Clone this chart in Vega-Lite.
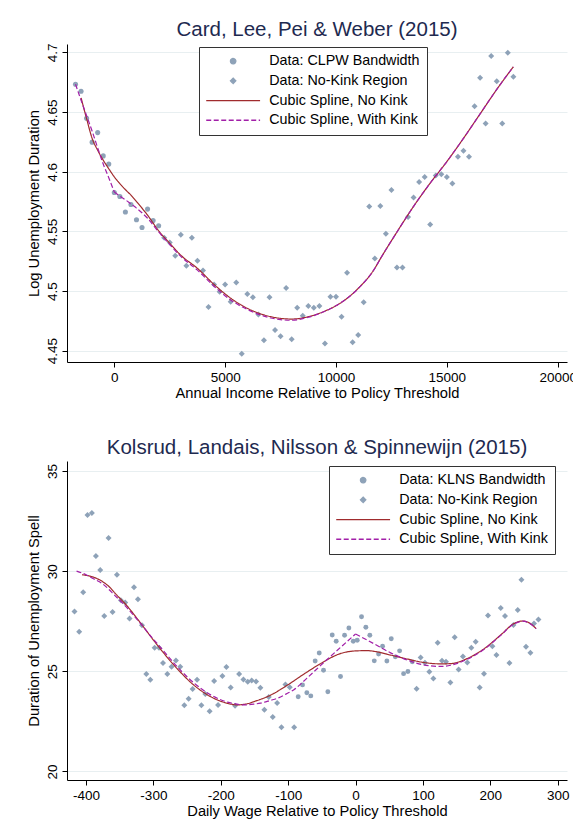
{
  "$schema": "https://vega.github.io/schema/vega-lite/v6.json",
  "background": "white",
  "padding": {"left": 26, "top": 19, "right": 0, "bottom": 10},
  "spacing": 36,
  "config": {
    "font": "Liberation Sans",
    "view": {"stroke": null},
    "axis": {
      "domainColor": "#000000",
      "tickColor": "#000000",
      "labelColor": "#000000",
      "titleColor": "#000000",
      "labelFontSize": 13.5,
      "titleFontSize": 14.7,
      "titleFontWeight": "normal",
      "tickSize": 5,
      "labelPadding": 3,
      "gridColor": "#e8eff1",
      "gridWidth": 1
    },
    "axisX": {"titlePadding": 2},
    "axisY": {"titlePadding": 3.5},
    "title": {"fontSize": 20.5, "fontWeight": "normal", "color": "#1e2a50", "offset": 3},
    "legend": {
      "title": null,
      "orient": "none",
      "padding": 7,
      "strokeColor": "#333333",
      "fillColor": "white",
      "symbolSize": 29,
      "symbolStrokeWidth": 1.3,
      "symbolOffset": 20,
      "labelOffset": 29,
      "labelFontSize": 14.3,
      "labelColor": "#000000",
      "labelExpr": "datum.label + '  '",
      "rowPadding": 4.7
    }
  },
  "resolve": {"scale": {"color": "independent", "shape": "independent", "strokeDash": "independent"}},
  "datasets": {
    "top_pts": [
      {"x": -1750, "y": 4.6734, "s": "Data: CLPW Bandwidth"},
      {"x": -1500, "y": 4.6675, "s": "Data: CLPW Bandwidth"},
      {"x": -1250, "y": 4.6449, "s": "Data: CLPW Bandwidth"},
      {"x": -1000, "y": 4.6248, "s": "Data: CLPW Bandwidth"},
      {"x": -750, "y": 4.6328, "s": "Data: CLPW Bandwidth"},
      {"x": -500, "y": 4.6133, "s": "Data: CLPW Bandwidth"},
      {"x": -250, "y": 4.6064, "s": "Data: CLPW Bandwidth"},
      {"x": 0, "y": 4.5826, "s": "Data: CLPW Bandwidth"},
      {"x": 250, "y": 4.5792, "s": "Data: CLPW Bandwidth"},
      {"x": 500, "y": 4.5662, "s": "Data: CLPW Bandwidth"},
      {"x": 750, "y": 4.5725, "s": "Data: CLPW Bandwidth"},
      {"x": 1000, "y": 4.5597, "s": "Data: CLPW Bandwidth"},
      {"x": 1250, "y": 4.5533, "s": "Data: CLPW Bandwidth"},
      {"x": 1500, "y": 4.5687, "s": "Data: CLPW Bandwidth"},
      {"x": 1750, "y": 4.5591, "s": "Data: CLPW Bandwidth"},
      {"x": 2000, "y": 4.5547, "s": "Data: CLPW Bandwidth"},
      {"x": 2250, "y": 4.5446, "s": "Data: No-Kink Region"},
      {"x": 2500, "y": 4.5407, "s": "Data: No-Kink Region"},
      {"x": 2750, "y": 4.5296, "s": "Data: No-Kink Region"},
      {"x": 3000, "y": 4.5472, "s": "Data: No-Kink Region"},
      {"x": 3250, "y": 4.5212, "s": "Data: No-Kink Region"},
      {"x": 3500, "y": 4.5446, "s": "Data: No-Kink Region"},
      {"x": 3750, "y": 4.5254, "s": "Data: No-Kink Region"},
      {"x": 4000, "y": 4.5173, "s": "Data: No-Kink Region"},
      {"x": 4250, "y": 4.4866, "s": "Data: No-Kink Region"},
      {"x": 4500, "y": 4.5055, "s": "Data: No-Kink Region"},
      {"x": 4750, "y": 4.4994, "s": "Data: No-Kink Region"},
      {"x": 5000, "y": 4.5055, "s": "Data: No-Kink Region"},
      {"x": 5250, "y": 4.491, "s": "Data: No-Kink Region"},
      {"x": 5500, "y": 4.5072, "s": "Data: No-Kink Region"},
      {"x": 5750, "y": 4.4475, "s": "Data: No-Kink Region"},
      {"x": 6000, "y": 4.4975, "s": "Data: No-Kink Region"},
      {"x": 6250, "y": 4.4947, "s": "Data: No-Kink Region"},
      {"x": 6500, "y": 4.4804, "s": "Data: No-Kink Region"},
      {"x": 6750, "y": 4.4587, "s": "Data: No-Kink Region"},
      {"x": 7000, "y": 4.4947, "s": "Data: No-Kink Region"},
      {"x": 7250, "y": 4.4673, "s": "Data: No-Kink Region"},
      {"x": 7500, "y": 4.462, "s": "Data: No-Kink Region"},
      {"x": 7750, "y": 4.5025, "s": "Data: No-Kink Region"},
      {"x": 8000, "y": 4.4595, "s": "Data: No-Kink Region"},
      {"x": 8250, "y": 4.486, "s": "Data: No-Kink Region"},
      {"x": 8500, "y": 4.4793, "s": "Data: No-Kink Region"},
      {"x": 8750, "y": 4.4874, "s": "Data: No-Kink Region"},
      {"x": 9000, "y": 4.486, "s": "Data: No-Kink Region"},
      {"x": 9250, "y": 4.4874, "s": "Data: No-Kink Region"},
      {"x": 9500, "y": 4.4561, "s": "Data: No-Kink Region"},
      {"x": 9750, "y": 4.4952, "s": "Data: No-Kink Region"},
      {"x": 10000, "y": 4.4952, "s": "Data: No-Kink Region"},
      {"x": 10250, "y": 4.4785, "s": "Data: No-Kink Region"},
      {"x": 10500, "y": 4.5153, "s": "Data: No-Kink Region"},
      {"x": 10750, "y": 4.457, "s": "Data: No-Kink Region"},
      {"x": 11000, "y": 4.4631, "s": "Data: No-Kink Region"},
      {"x": 11250, "y": 4.4905, "s": "Data: No-Kink Region"},
      {"x": 11500, "y": 4.5709, "s": "Data: No-Kink Region"},
      {"x": 11750, "y": 4.5273, "s": "Data: No-Kink Region"},
      {"x": 12000, "y": 4.5712, "s": "Data: No-Kink Region"},
      {"x": 12250, "y": 4.548, "s": "Data: No-Kink Region"},
      {"x": 12500, "y": 4.5848, "s": "Data: No-Kink Region"},
      {"x": 12750, "y": 4.5198, "s": "Data: No-Kink Region"},
      {"x": 13000, "y": 4.5198, "s": "Data: No-Kink Region"},
      {"x": 13250, "y": 4.562, "s": "Data: No-Kink Region"},
      {"x": 13500, "y": 4.5784, "s": "Data: No-Kink Region"},
      {"x": 13750, "y": 4.5915, "s": "Data: No-Kink Region"},
      {"x": 14000, "y": 4.5957, "s": "Data: No-Kink Region"},
      {"x": 14250, "y": 4.5558, "s": "Data: No-Kink Region"},
      {"x": 14500, "y": 4.5968, "s": "Data: No-Kink Region"},
      {"x": 14750, "y": 4.598, "s": "Data: No-Kink Region"},
      {"x": 15000, "y": 4.5957, "s": "Data: No-Kink Region"},
      {"x": 15250, "y": 4.5901, "s": "Data: No-Kink Region"},
      {"x": 15500, "y": 4.6125, "s": "Data: No-Kink Region"},
      {"x": 15750, "y": 4.6175, "s": "Data: No-Kink Region"},
      {"x": 16000, "y": 4.6125, "s": "Data: No-Kink Region"},
      {"x": 16250, "y": 4.6549, "s": "Data: No-Kink Region"},
      {"x": 16500, "y": 4.6789, "s": "Data: No-Kink Region"},
      {"x": 16750, "y": 4.6404, "s": "Data: No-Kink Region"},
      {"x": 17000, "y": 4.6971, "s": "Data: No-Kink Region"},
      {"x": 17250, "y": 4.6759, "s": "Data: No-Kink Region"},
      {"x": 17500, "y": 4.6404, "s": "Data: No-Kink Region"},
      {"x": 17750, "y": 4.6998, "s": "Data: No-Kink Region"},
      {"x": 18000, "y": 4.6797, "s": "Data: No-Kink Region"}
    ],
    "top_lines": [
      {"x": -1500, "y": 4.662, "s": "Cubic Spline, No Kink", "part": "a"},
      {"x": -1250, "y": 4.6445, "s": "Cubic Spline, No Kink", "part": "a"},
      {"x": -1000, "y": 4.628, "s": "Cubic Spline, No Kink", "part": "a"},
      {"x": -750, "y": 4.618, "s": "Cubic Spline, No Kink", "part": "a"},
      {"x": -500, "y": 4.6097, "s": "Cubic Spline, No Kink", "part": "a"},
      {"x": -250, "y": 4.6025, "s": "Cubic Spline, No Kink", "part": "a"},
      {"x": 0, "y": 4.5957, "s": "Cubic Spline, No Kink", "part": "a"},
      {"x": 250, "y": 4.59, "s": "Cubic Spline, No Kink", "part": "a"},
      {"x": 500, "y": 4.585, "s": "Cubic Spline, No Kink", "part": "a"},
      {"x": 750, "y": 4.5804, "s": "Cubic Spline, No Kink", "part": "a"},
      {"x": 1000, "y": 4.575, "s": "Cubic Spline, No Kink", "part": "a"},
      {"x": 1500, "y": 4.5636, "s": "Cubic Spline, No Kink", "part": "a"},
      {"x": 2000, "y": 4.5505, "s": "Cubic Spline, No Kink", "part": "a"},
      {"x": 2500, "y": 4.54, "s": "Cubic Spline, No Kink", "part": "a"},
      {"x": 3000, "y": 4.53, "s": "Cubic Spline, No Kink", "part": "a"},
      {"x": 3750, "y": 4.519, "s": "Cubic Spline, No Kink", "part": "a"},
      {"x": 4500, "y": 4.5055, "s": "Cubic Spline, No Kink", "part": "a"},
      {"x": 5250, "y": 4.494, "s": "Cubic Spline, No Kink", "part": "a"},
      {"x": 6000, "y": 4.4855, "s": "Cubic Spline, No Kink", "part": "a"},
      {"x": 6750, "y": 4.48, "s": "Cubic Spline, No Kink", "part": "a"},
      {"x": 7500, "y": 4.4771, "s": "Cubic Spline, No Kink", "part": "a"},
      {"x": 8000, "y": 4.4765, "s": "Cubic Spline, No Kink", "part": "a"},
      {"x": 8750, "y": 4.4785, "s": "Cubic Spline, No Kink", "part": "a"},
      {"x": 9500, "y": 4.4832, "s": "Cubic Spline, No Kink", "part": "a"},
      {"x": 10250, "y": 4.4905, "s": "Cubic Spline, No Kink", "part": "a"},
      {"x": 11000, "y": 4.5022, "s": "Cubic Spline, No Kink", "part": "a"},
      {"x": 11750, "y": 4.519, "s": "Cubic Spline, No Kink", "part": "a"},
      {"x": 12000, "y": 4.527, "s": "Cubic Spline, No Kink", "part": "a"},
      {"x": 12750, "y": 4.5495, "s": "Cubic Spline, No Kink", "part": "a"},
      {"x": 13500, "y": 4.571, "s": "Cubic Spline, No Kink", "part": "a"},
      {"x": 14250, "y": 4.5905, "s": "Cubic Spline, No Kink", "part": "a"},
      {"x": 15000, "y": 4.6085, "s": "Cubic Spline, No Kink", "part": "a"},
      {"x": 15750, "y": 4.628, "s": "Cubic Spline, No Kink", "part": "a"},
      {"x": 16500, "y": 4.6485, "s": "Cubic Spline, No Kink", "part": "a"},
      {"x": 17250, "y": 4.669, "s": "Cubic Spline, No Kink", "part": "a"},
      {"x": 18000, "y": 4.688, "s": "Cubic Spline, No Kink", "part": "a"},
      {"x": -1750, "y": 4.6734, "s": "Cubic Spline, With Kink", "part": "L"},
      {"x": -1500, "y": 4.66, "s": "Cubic Spline, With Kink", "part": "L"},
      {"x": -1250, "y": 4.647, "s": "Cubic Spline, With Kink", "part": "L"},
      {"x": -1000, "y": 4.634, "s": "Cubic Spline, With Kink", "part": "L"},
      {"x": -750, "y": 4.62, "s": "Cubic Spline, With Kink", "part": "L"},
      {"x": -500, "y": 4.6065, "s": "Cubic Spline, With Kink", "part": "L"},
      {"x": -250, "y": 4.595, "s": "Cubic Spline, With Kink", "part": "L"},
      {"x": 0, "y": 4.583, "s": "Cubic Spline, With Kink", "part": "L"},
      {"x": 0, "y": 4.583, "s": "Cubic Spline, With Kink", "part": "R"},
      {"x": 250, "y": 4.5795, "s": "Cubic Spline, With Kink", "part": "R"},
      {"x": 500, "y": 4.5765, "s": "Cubic Spline, With Kink", "part": "R"},
      {"x": 750, "y": 4.573, "s": "Cubic Spline, With Kink", "part": "R"},
      {"x": 1000, "y": 4.5695, "s": "Cubic Spline, With Kink", "part": "R"},
      {"x": 1500, "y": 4.561, "s": "Cubic Spline, With Kink", "part": "R"},
      {"x": 2000, "y": 4.5495, "s": "Cubic Spline, With Kink", "part": "R"},
      {"x": 2500, "y": 4.539, "s": "Cubic Spline, With Kink", "part": "R"},
      {"x": 3000, "y": 4.529, "s": "Cubic Spline, With Kink", "part": "R"},
      {"x": 3750, "y": 4.5175, "s": "Cubic Spline, With Kink", "part": "R"},
      {"x": 4500, "y": 4.504, "s": "Cubic Spline, With Kink", "part": "R"},
      {"x": 5250, "y": 4.4925, "s": "Cubic Spline, With Kink", "part": "R"},
      {"x": 6000, "y": 4.4845, "s": "Cubic Spline, With Kink", "part": "R"},
      {"x": 6750, "y": 4.479, "s": "Cubic Spline, With Kink", "part": "R"},
      {"x": 7500, "y": 4.476, "s": "Cubic Spline, With Kink", "part": "R"},
      {"x": 8000, "y": 4.4755, "s": "Cubic Spline, With Kink", "part": "R"},
      {"x": 8750, "y": 4.478, "s": "Cubic Spline, With Kink", "part": "R"},
      {"x": 9500, "y": 4.483, "s": "Cubic Spline, With Kink", "part": "R"},
      {"x": 10250, "y": 4.4905, "s": "Cubic Spline, With Kink", "part": "R"},
      {"x": 11000, "y": 4.502, "s": "Cubic Spline, With Kink", "part": "R"},
      {"x": 11750, "y": 4.519, "s": "Cubic Spline, With Kink", "part": "R"},
      {"x": 12000, "y": 4.527, "s": "Cubic Spline, With Kink", "part": "R"},
      {"x": 12750, "y": 4.5495, "s": "Cubic Spline, With Kink", "part": "R"},
      {"x": 13500, "y": 4.571, "s": "Cubic Spline, With Kink", "part": "R"},
      {"x": 14250, "y": 4.5905, "s": "Cubic Spline, With Kink", "part": "R"},
      {"x": 15000, "y": 4.6085, "s": "Cubic Spline, With Kink", "part": "R"},
      {"x": 15750, "y": 4.628, "s": "Cubic Spline, With Kink", "part": "R"},
      {"x": 16500, "y": 4.6485, "s": "Cubic Spline, With Kink", "part": "R"},
      {"x": 17250, "y": 4.669, "s": "Cubic Spline, With Kink", "part": "R"},
      {"x": 18000, "y": 4.688, "s": "Cubic Spline, With Kink", "part": "R"}
    ],
    "bot_pts": [
      {"x": -417.1, "y": 27.98, "s": "Data: No-Kink Region"},
      {"x": -410.1, "y": 26.97, "s": "Data: No-Kink Region"},
      {"x": -404.2, "y": 28.94, "s": "Data: No-Kink Region"},
      {"x": -397.8, "y": 32.8, "s": "Data: No-Kink Region"},
      {"x": -391.3, "y": 32.9, "s": "Data: No-Kink Region"},
      {"x": -385.3, "y": 30.76, "s": "Data: No-Kink Region"},
      {"x": -378.9, "y": 30.06, "s": "Data: No-Kink Region"},
      {"x": -372.9, "y": 27.76, "s": "Data: No-Kink Region"},
      {"x": -366.5, "y": 31.66, "s": "Data: No-Kink Region"},
      {"x": -360.6, "y": 27.96, "s": "Data: No-Kink Region"},
      {"x": -354.1, "y": 29.82, "s": "Data: No-Kink Region"},
      {"x": -348.2, "y": 28.54, "s": "Data: No-Kink Region"},
      {"x": -341.8, "y": 28.44, "s": "Data: No-Kink Region"},
      {"x": -335.4, "y": 27.63, "s": "Data: No-Kink Region"},
      {"x": -328.8, "y": 29.19, "s": "Data: No-Kink Region"},
      {"x": -322.9, "y": 28.59, "s": "Data: No-Kink Region"},
      {"x": -316.9, "y": 27.3, "s": "Data: No-Kink Region"},
      {"x": -310.5, "y": 24.86, "s": "Data: No-Kink Region"},
      {"x": -304.6, "y": 24.58, "s": "Data: No-Kink Region"},
      {"x": -298.2, "y": 26.18, "s": "Data: No-Kink Region"},
      {"x": -291.7, "y": 26.17, "s": "Data: No-Kink Region"},
      {"x": -285.7, "y": 25.41, "s": "Data: No-Kink Region"},
      {"x": -279.3, "y": 24.86, "s": "Data: No-Kink Region"},
      {"x": -273.0, "y": 25.22, "s": "Data: No-Kink Region"},
      {"x": -266.5, "y": 25.54, "s": "Data: No-Kink Region"},
      {"x": -260.1, "y": 25.22, "s": "Data: No-Kink Region"},
      {"x": -254.1, "y": 23.3, "s": "Data: No-Kink Region"},
      {"x": -247.7, "y": 23.63, "s": "Data: No-Kink Region"},
      {"x": -241.8, "y": 24.11, "s": "Data: No-Kink Region"},
      {"x": -235.2, "y": 24.58, "s": "Data: No-Kink Region"},
      {"x": -228.8, "y": 23.3, "s": "Data: No-Kink Region"},
      {"x": -222.9, "y": 23.86, "s": "Data: No-Kink Region"},
      {"x": -216.5, "y": 23.0, "s": "Data: No-Kink Region"},
      {"x": -209.9, "y": 24.51, "s": "Data: No-Kink Region"},
      {"x": -204.0, "y": 23.32, "s": "Data: No-Kink Region"},
      {"x": -197.6, "y": 24.76, "s": "Data: No-Kink Region"},
      {"x": -191.7, "y": 25.21, "s": "Data: No-Kink Region"},
      {"x": -185.3, "y": 24.19, "s": "Data: No-Kink Region"},
      {"x": -178.8, "y": 23.28, "s": "Data: No-Kink Region"},
      {"x": -172.8, "y": 24.86, "s": "Data: No-Kink Region"},
      {"x": -166.4, "y": 24.59, "s": "Data: No-Kink Region"},
      {"x": -160.0, "y": 24.48, "s": "Data: No-Kink Region"},
      {"x": -154.1, "y": 24.54, "s": "Data: No-Kink Region"},
      {"x": -147.6, "y": 24.49, "s": "Data: No-Kink Region"},
      {"x": -141.2, "y": 24.18, "s": "Data: No-Kink Region"},
      {"x": -135.3, "y": 23.08, "s": "Data: No-Kink Region"},
      {"x": -128.8, "y": 23.71, "s": "Data: No-Kink Region"},
      {"x": -122.9, "y": 22.72, "s": "Data: No-Kink Region"},
      {"x": -116.4, "y": 23.42, "s": "Data: No-Kink Region"},
      {"x": -110.0, "y": 22.2, "s": "Data: No-Kink Region"},
      {"x": -104.0, "y": 24.34, "s": "Data: No-Kink Region"},
      {"x": -97.6, "y": 24.2, "s": "Data: No-Kink Region"},
      {"x": -91.1, "y": 22.2, "s": "Data: No-Kink Region"},
      {"x": -85.1, "y": 23.73, "s": "Data: KLNS Bandwidth"},
      {"x": -78.7, "y": 24.32, "s": "Data: KLNS Bandwidth"},
      {"x": -72.3, "y": 23.93, "s": "Data: KLNS Bandwidth"},
      {"x": -66.4, "y": 23.77, "s": "Data: KLNS Bandwidth"},
      {"x": -59.9, "y": 25.51, "s": "Data: KLNS Bandwidth"},
      {"x": -53.9, "y": 25.91, "s": "Data: KLNS Bandwidth"},
      {"x": -47.5, "y": 25.05, "s": "Data: KLNS Bandwidth"},
      {"x": -41.1, "y": 23.98, "s": "Data: KLNS Bandwidth"},
      {"x": -34.6, "y": 26.81, "s": "Data: KLNS Bandwidth"},
      {"x": -28.7, "y": 26.5, "s": "Data: KLNS Bandwidth"},
      {"x": -22.3, "y": 24.74, "s": "Data: KLNS Bandwidth"},
      {"x": -16.3, "y": 26.8, "s": "Data: KLNS Bandwidth"},
      {"x": -9.9, "y": 27.16, "s": "Data: KLNS Bandwidth"},
      {"x": -3.4, "y": 26.5, "s": "Data: KLNS Bandwidth"},
      {"x": 2.5, "y": 26.55, "s": "Data: KLNS Bandwidth"},
      {"x": 8.9, "y": 27.72, "s": "Data: KLNS Bandwidth"},
      {"x": 15.3, "y": 27.2, "s": "Data: KLNS Bandwidth"},
      {"x": 21.2, "y": 26.8, "s": "Data: KLNS Bandwidth"},
      {"x": 27.8, "y": 25.52, "s": "Data: KLNS Bandwidth"},
      {"x": 34.2, "y": 25.86, "s": "Data: KLNS Bandwidth"},
      {"x": 40.1, "y": 26.25, "s": "Data: KLNS Bandwidth"},
      {"x": 46.5, "y": 25.51, "s": "Data: KLNS Bandwidth"},
      {"x": 53.0, "y": 26.62, "s": "Data: KLNS Bandwidth"},
      {"x": 59.0, "y": 25.72, "s": "Data: KLNS Bandwidth"},
      {"x": 65.4, "y": 26.02, "s": "Data: KLNS Bandwidth"},
      {"x": 71.3, "y": 24.88, "s": "Data: KLNS Bandwidth"},
      {"x": 77.7, "y": 24.99, "s": "Data: KLNS Bandwidth"},
      {"x": 84.2, "y": 25.47, "s": "Data: KLNS Bandwidth"},
      {"x": 90.6, "y": 24.13, "s": "Data: No-Kink Region"},
      {"x": 96.6, "y": 25.69, "s": "Data: No-Kink Region"},
      {"x": 103.0, "y": 25.42, "s": "Data: No-Kink Region"},
      {"x": 109.5, "y": 24.98, "s": "Data: No-Kink Region"},
      {"x": 115.5, "y": 24.64, "s": "Data: No-Kink Region"},
      {"x": 121.9, "y": 26.42, "s": "Data: No-Kink Region"},
      {"x": 128.3, "y": 25.52, "s": "Data: No-Kink Region"},
      {"x": 134.2, "y": 25.47, "s": "Data: No-Kink Region"},
      {"x": 140.7, "y": 24.44, "s": "Data: No-Kink Region"},
      {"x": 147.1, "y": 26.7, "s": "Data: No-Kink Region"},
      {"x": 153.0, "y": 25.09, "s": "Data: No-Kink Region"},
      {"x": 159.4, "y": 25.74, "s": "Data: No-Kink Region"},
      {"x": 165.9, "y": 25.44, "s": "Data: No-Kink Region"},
      {"x": 171.8, "y": 26.17, "s": "Data: No-Kink Region"},
      {"x": 178.3, "y": 26.47, "s": "Data: No-Kink Region"},
      {"x": 184.2, "y": 24.19, "s": "Data: No-Kink Region"},
      {"x": 190.6, "y": 24.88, "s": "Data: No-Kink Region"},
      {"x": 196.6, "y": 27.78, "s": "Data: No-Kink Region"},
      {"x": 203.1, "y": 26.25, "s": "Data: No-Kink Region"},
      {"x": 209.1, "y": 25.81, "s": "Data: No-Kink Region"},
      {"x": 215.5, "y": 28.16, "s": "Data: No-Kink Region"},
      {"x": 221.8, "y": 27.76, "s": "Data: No-Kink Region"},
      {"x": 228.4, "y": 25.41, "s": "Data: No-Kink Region"},
      {"x": 234.3, "y": 27.31, "s": "Data: No-Kink Region"},
      {"x": 240.7, "y": 28.06, "s": "Data: No-Kink Region"},
      {"x": 246.2, "y": 29.57, "s": "Data: No-Kink Region"},
      {"x": 253.0, "y": 26.22, "s": "Data: No-Kink Region"},
      {"x": 259.5, "y": 25.92, "s": "Data: No-Kink Region"},
      {"x": 264.8, "y": 27.38, "s": "Data: No-Kink Region"},
      {"x": 271.4, "y": 27.58, "s": "Data: No-Kink Region"}
    ],
    "bot_lines": [
      {"x": -406, "y": 29.82, "s": "Cubic Spline, No Kink", "part": "a"},
      {"x": -389, "y": 29.7, "s": "Cubic Spline, No Kink", "part": "a"},
      {"x": -376, "y": 29.49, "s": "Cubic Spline, No Kink", "part": "a"},
      {"x": -365, "y": 29.2, "s": "Cubic Spline, No Kink", "part": "a"},
      {"x": -357, "y": 28.9, "s": "Cubic Spline, No Kink", "part": "a"},
      {"x": -340, "y": 28.3, "s": "Cubic Spline, No Kink", "part": "a"},
      {"x": -320, "y": 27.45, "s": "Cubic Spline, No Kink", "part": "a"},
      {"x": -300, "y": 26.56, "s": "Cubic Spline, No Kink", "part": "a"},
      {"x": -290, "y": 26.13, "s": "Cubic Spline, No Kink", "part": "a"},
      {"x": -265, "y": 25.14, "s": "Cubic Spline, No Kink", "part": "a"},
      {"x": -240, "y": 24.31, "s": "Cubic Spline, No Kink", "part": "a"},
      {"x": -215, "y": 23.73, "s": "Cubic Spline, No Kink", "part": "a"},
      {"x": -190, "y": 23.4, "s": "Cubic Spline, No Kink", "part": "a"},
      {"x": -176, "y": 23.32, "s": "Cubic Spline, No Kink", "part": "a"},
      {"x": -160, "y": 23.38, "s": "Cubic Spline, No Kink", "part": "a"},
      {"x": -151, "y": 23.48, "s": "Cubic Spline, No Kink", "part": "a"},
      {"x": -126, "y": 23.81, "s": "Cubic Spline, No Kink", "part": "a"},
      {"x": -101, "y": 24.31, "s": "Cubic Spline, No Kink", "part": "a"},
      {"x": -77, "y": 24.85, "s": "Cubic Spline, No Kink", "part": "a"},
      {"x": -52, "y": 25.38, "s": "Cubic Spline, No Kink", "part": "a"},
      {"x": -22, "y": 25.89, "s": "Cubic Spline, No Kink", "part": "a"},
      {"x": 2, "y": 26.02, "s": "Cubic Spline, No Kink", "part": "a"},
      {"x": 17, "y": 26.03, "s": "Cubic Spline, No Kink", "part": "a"},
      {"x": 32, "y": 25.97, "s": "Cubic Spline, No Kink", "part": "a"},
      {"x": 52, "y": 25.81, "s": "Cubic Spline, No Kink", "part": "a"},
      {"x": 77, "y": 25.61, "s": "Cubic Spline, No Kink", "part": "a"},
      {"x": 101, "y": 25.44, "s": "Cubic Spline, No Kink", "part": "a"},
      {"x": 126, "y": 25.37, "s": "Cubic Spline, No Kink", "part": "a"},
      {"x": 141, "y": 25.38, "s": "Cubic Spline, No Kink", "part": "a"},
      {"x": 166, "y": 25.64, "s": "Cubic Spline, No Kink", "part": "a"},
      {"x": 191, "y": 26.13, "s": "Cubic Spline, No Kink", "part": "a"},
      {"x": 215, "y": 26.8, "s": "Cubic Spline, No Kink", "part": "a"},
      {"x": 235, "y": 27.38, "s": "Cubic Spline, No Kink", "part": "a"},
      {"x": 248, "y": 27.51, "s": "Cubic Spline, No Kink", "part": "a"},
      {"x": 257, "y": 27.43, "s": "Cubic Spline, No Kink", "part": "a"},
      {"x": 268, "y": 27.13, "s": "Cubic Spline, No Kink", "part": "a"},
      {"x": -414, "y": 30.0, "s": "Cubic Spline, With Kink", "part": "L"},
      {"x": -400, "y": 29.82, "s": "Cubic Spline, With Kink", "part": "L"},
      {"x": -389, "y": 29.62, "s": "Cubic Spline, With Kink", "part": "L"},
      {"x": -376, "y": 29.38, "s": "Cubic Spline, With Kink", "part": "L"},
      {"x": -357, "y": 28.78, "s": "Cubic Spline, With Kink", "part": "L"},
      {"x": -340, "y": 28.2, "s": "Cubic Spline, With Kink", "part": "L"},
      {"x": -320, "y": 27.42, "s": "Cubic Spline, With Kink", "part": "L"},
      {"x": -300, "y": 26.6, "s": "Cubic Spline, With Kink", "part": "L"},
      {"x": -290, "y": 26.22, "s": "Cubic Spline, With Kink", "part": "L"},
      {"x": -265, "y": 25.24, "s": "Cubic Spline, With Kink", "part": "L"},
      {"x": -240, "y": 24.42, "s": "Cubic Spline, With Kink", "part": "L"},
      {"x": -215, "y": 23.82, "s": "Cubic Spline, With Kink", "part": "L"},
      {"x": -190, "y": 23.46, "s": "Cubic Spline, With Kink", "part": "L"},
      {"x": -176, "y": 23.36, "s": "Cubic Spline, With Kink", "part": "L"},
      {"x": -166, "y": 23.32, "s": "Cubic Spline, With Kink", "part": "L"},
      {"x": -151, "y": 23.36, "s": "Cubic Spline, With Kink", "part": "L"},
      {"x": -141, "y": 23.41, "s": "Cubic Spline, With Kink", "part": "L"},
      {"x": -126, "y": 23.55, "s": "Cubic Spline, With Kink", "part": "L"},
      {"x": -116, "y": 23.65, "s": "Cubic Spline, With Kink", "part": "L"},
      {"x": -101, "y": 23.9, "s": "Cubic Spline, With Kink", "part": "L"},
      {"x": -92, "y": 24.07, "s": "Cubic Spline, With Kink", "part": "L"},
      {"x": -72, "y": 24.66, "s": "Cubic Spline, With Kink", "part": "L"},
      {"x": -47, "y": 25.44, "s": "Cubic Spline, With Kink", "part": "L"},
      {"x": -22, "y": 26.2, "s": "Cubic Spline, With Kink", "part": "L"},
      {"x": 0, "y": 26.86, "s": "Cubic Spline, With Kink", "part": "L"},
      {"x": 0, "y": 26.86, "s": "Cubic Spline, With Kink", "part": "R"},
      {"x": 27, "y": 26.38, "s": "Cubic Spline, With Kink", "part": "R"},
      {"x": 52, "y": 25.92, "s": "Cubic Spline, With Kink", "part": "R"},
      {"x": 77, "y": 25.56, "s": "Cubic Spline, With Kink", "part": "R"},
      {"x": 101, "y": 25.32, "s": "Cubic Spline, With Kink", "part": "R"},
      {"x": 126, "y": 25.24, "s": "Cubic Spline, With Kink", "part": "R"},
      {"x": 141, "y": 25.3, "s": "Cubic Spline, With Kink", "part": "R"},
      {"x": 166, "y": 25.6, "s": "Cubic Spline, With Kink", "part": "R"},
      {"x": 191, "y": 26.1, "s": "Cubic Spline, With Kink", "part": "R"},
      {"x": 215, "y": 26.78, "s": "Cubic Spline, With Kink", "part": "R"},
      {"x": 235, "y": 27.36, "s": "Cubic Spline, With Kink", "part": "R"},
      {"x": 248, "y": 27.5, "s": "Cubic Spline, With Kink", "part": "R"},
      {"x": 257, "y": 27.42, "s": "Cubic Spline, With Kink", "part": "R"},
      {"x": 268, "y": 27.13, "s": "Cubic Spline, With Kink", "part": "R"}
    ]
  },
  "vconcat": [
    {
      "title": "Card, Lee, Pei & Weber (2015)",
      "width": 500,
      "height": 318,
      "encoding": {
        "x": {"field": "x", "type": "quantitative", "scale": {"domain": [-2134, 20420], "nice": false, "zero": false}, "axis": {"title": "Annual Income Relative to Policy Threshold", "values": [0, 5000, 10000, 15000, 20000], "labelExpr": "'' + datum.value", "grid": false, "labelFlush": false}},
        "y": {"field": "y", "type": "quantitative", "scale": {"domain": [4.4405, 4.7071], "nice": false, "zero": false}, "axis": {"title": "Log Unemployment Duration", "values": [4.45, 4.5, 4.55, 4.6, 4.65, 4.7], "labelExpr": "'' + datum.value", "labelAngle": -90, "grid": true, "labelFlush": false}},
        "color": {"field": "s", "type": "nominal", "scale": {"domain": ["Data: CLPW Bandwidth", "Data: No-Kink Region", "Cubic Spline, No Kink", "Cubic Spline, With Kink"], "range": ["#8ea2b8", "#8ea2b8", "#a02b2d", "#a21fa8"]}, "legend": {"legendX": 132, "legendY": 3}}
      },
      "layer": [
        {
          "data": {"name": "top_pts"},
          "transform": [{"filter": "datum.s === 'Data: CLPW Bandwidth'"}],
          "mark": {"type": "point", "filled": true, "opacity": 1, "size": 26},
          "encoding": {"shape": {"field": "s", "type": "nominal", "scale": {"domain": ["Data: CLPW Bandwidth", "Data: No-Kink Region", "Cubic Spline, No Kink", "Cubic Spline, With Kink"], "range": ["circle", "diamond", "M-10,0L10,0", "M-10,0L10,0"]}, "legend": {"legendX": 132, "legendY": 3}}}
        },
        {
          "data": {"name": "top_pts"},
          "transform": [{"filter": "datum.s === 'Data: No-Kink Region'"}],
          "mark": {"type": "point", "filled": true, "opacity": 1, "size": 36},
          "encoding": {"shape": {"field": "s", "type": "nominal", "scale": {"domain": ["Data: CLPW Bandwidth", "Data: No-Kink Region", "Cubic Spline, No Kink", "Cubic Spline, With Kink"], "range": ["circle", "diamond", "M-10,0L10,0", "M-10,0L10,0"]}, "legend": {"legendX": 132, "legendY": 3}}}
        },
        {
          "data": {"name": "top_lines"},
          "mark": {"type": "line", "strokeWidth": 1.2, "interpolate": "monotone"},
          "encoding": {
            "detail": {"field": "part", "type": "nominal"},
            "strokeDash": {"field": "s", "type": "nominal", "scale": {"domain": ["Data: CLPW Bandwidth", "Data: No-Kink Region", "Cubic Spline, No Kink", "Cubic Spline, With Kink"], "range": [[1, 0], [1, 0], [1, 0], [5, 2.5]]}, "legend": {"legendX": 132, "legendY": 3}}
          }
        }
      ]
    },
    {
      "title": "Kolsrud, Landais, Nilsson & Spinnewijn (2015)",
      "width": 500,
      "height": 319,
      "encoding": {
        "x": {"field": "x", "type": "quantitative", "scale": {"domain": [-428.2, 313.8], "nice": false, "zero": false}, "axis": {"title": "Daily Wage Relative to Policy Threshold", "values": [-400, -300, -200, -100, 0, 100, 200, 300], "labelExpr": "'' + datum.value", "grid": false, "labelFlush": false}},
        "y": {"field": "y", "type": "quantitative", "scale": {"domain": [19.57, 35.5], "nice": false, "zero": false}, "axis": {"title": "Duration of Unemployment Spell", "values": [20, 25, 30, 35], "labelExpr": "'' + datum.value", "labelAngle": -90, "grid": true, "labelFlush": false}},
        "color": {"field": "s", "type": "nominal", "scale": {"domain": ["Data: KLNS Bandwidth", "Data: No-Kink Region", "Cubic Spline, No Kink", "Cubic Spline, With Kink"], "range": ["#8ea2b8", "#8ea2b8", "#a02b2d", "#a21fa8"]}, "legend": {"legendX": 262, "legendY": 5}}
      },
      "layer": [
        {
          "data": {"name": "bot_pts"},
          "transform": [{"filter": "datum.s === 'Data: KLNS Bandwidth'"}],
          "mark": {"type": "point", "filled": true, "opacity": 1, "size": 24},
          "encoding": {"shape": {"field": "s", "type": "nominal", "scale": {"domain": ["Data: KLNS Bandwidth", "Data: No-Kink Region", "Cubic Spline, No Kink", "Cubic Spline, With Kink"], "range": ["circle", "diamond", "M-10,0L10,0", "M-10,0L10,0"]}, "legend": {"legendX": 262, "legendY": 5}}}
        },
        {
          "data": {"name": "bot_pts"},
          "transform": [{"filter": "datum.s === 'Data: No-Kink Region'"}],
          "mark": {"type": "point", "filled": true, "opacity": 1, "size": 36},
          "encoding": {"shape": {"field": "s", "type": "nominal", "scale": {"domain": ["Data: KLNS Bandwidth", "Data: No-Kink Region", "Cubic Spline, No Kink", "Cubic Spline, With Kink"], "range": ["circle", "diamond", "M-10,0L10,0", "M-10,0L10,0"]}, "legend": {"legendX": 262, "legendY": 5}}}
        },
        {
          "data": {"name": "bot_lines"},
          "mark": {"type": "line", "strokeWidth": 1.2, "interpolate": "monotone"},
          "encoding": {
            "detail": {"field": "part", "type": "nominal"},
            "strokeDash": {"field": "s", "type": "nominal", "scale": {"domain": ["Data: KLNS Bandwidth", "Data: No-Kink Region", "Cubic Spline, No Kink", "Cubic Spline, With Kink"], "range": [[1, 0], [1, 0], [1, 0], [5, 2.5]]}, "legend": {"legendX": 262, "legendY": 5}}
          }
        }
      ]
    }
  ]
}
